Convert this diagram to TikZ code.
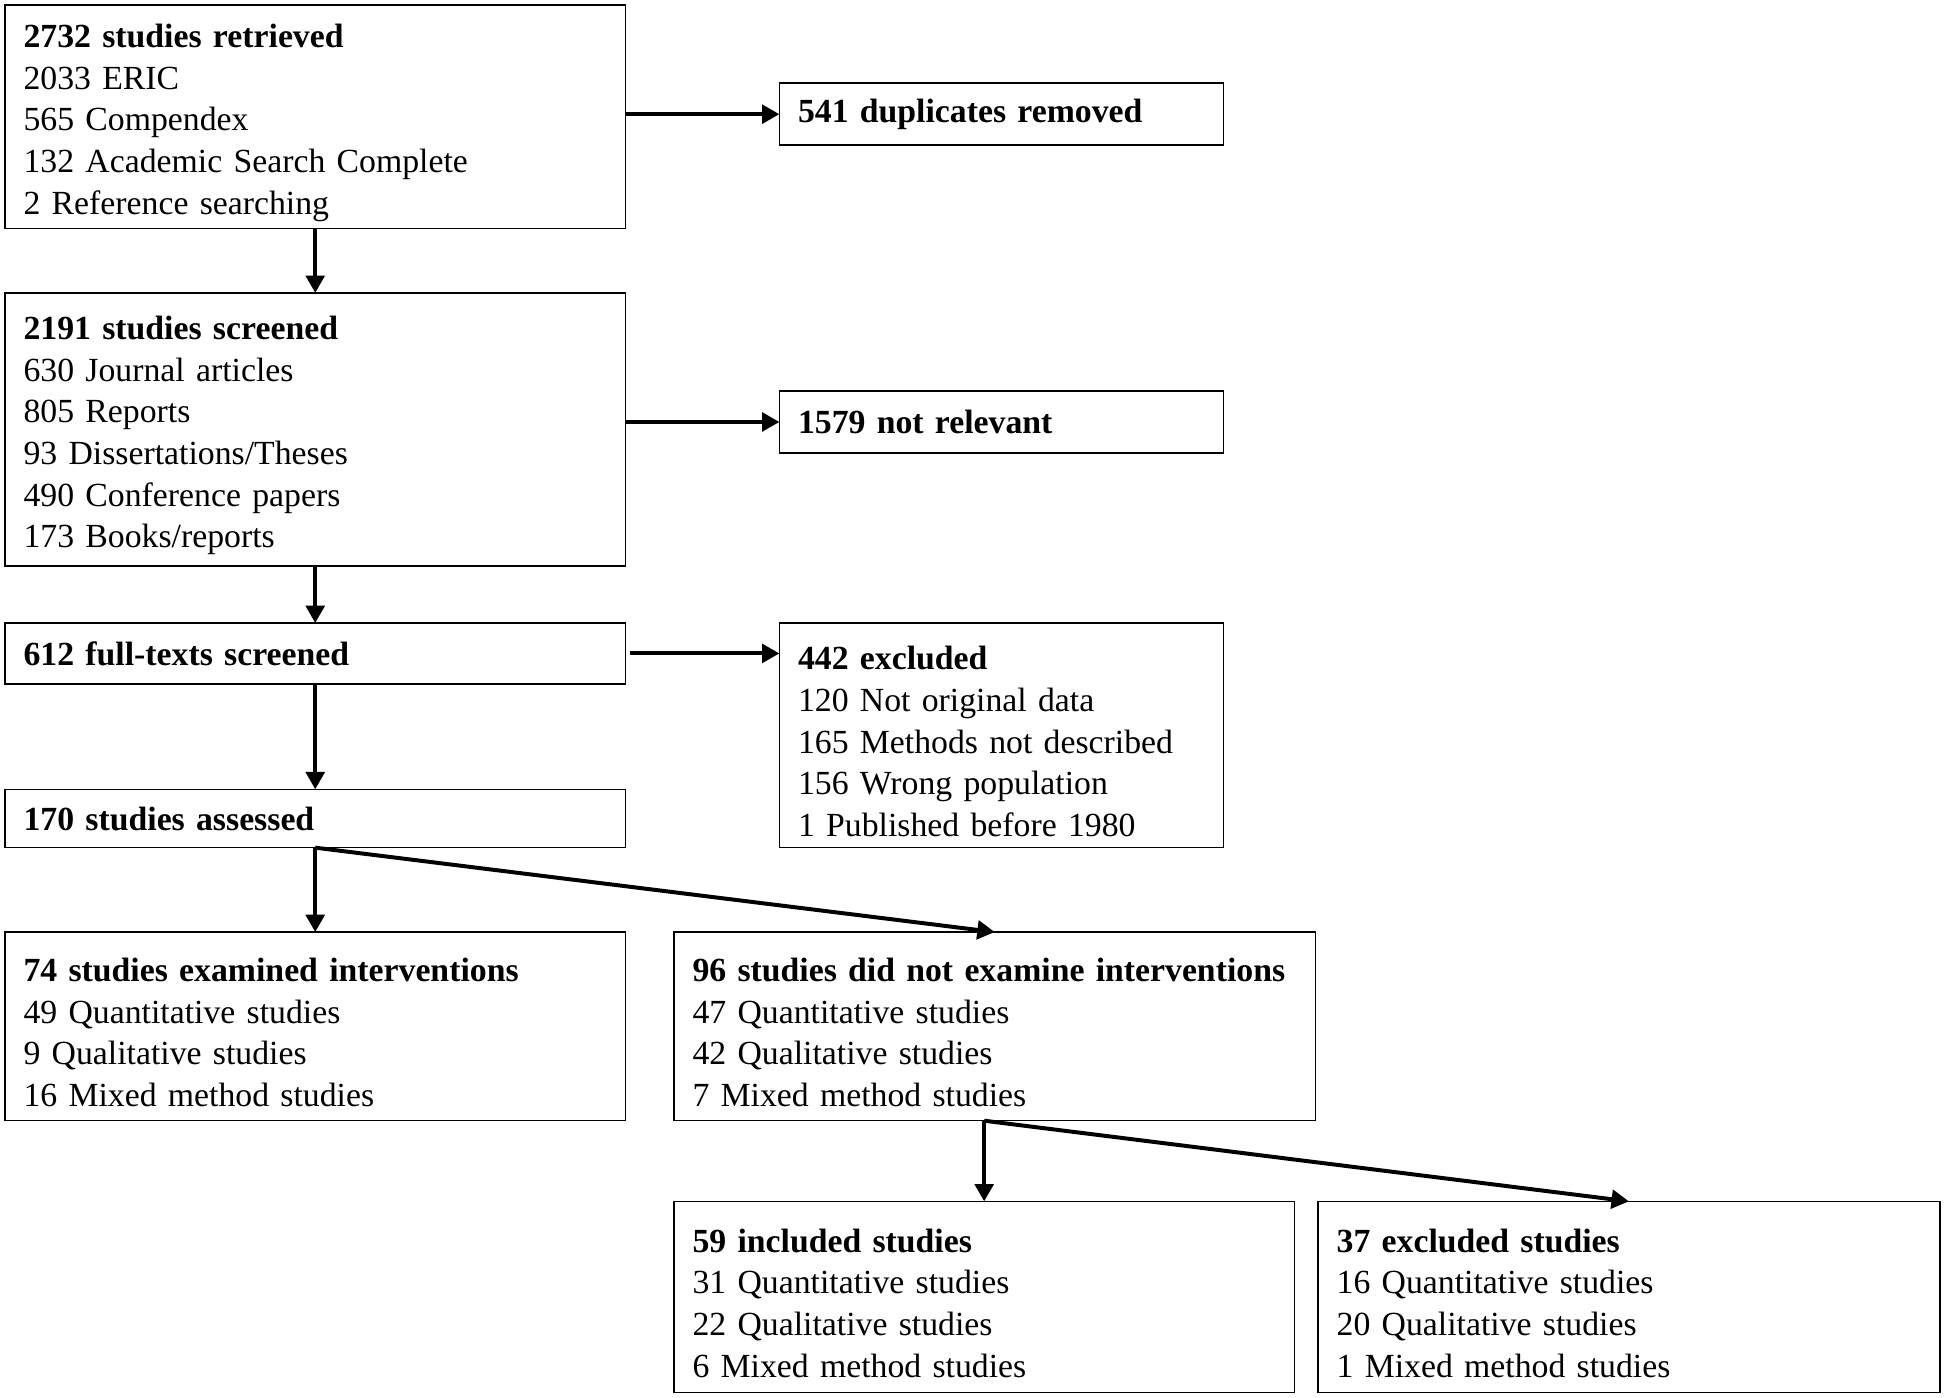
\documentclass[tikz,border=0pt]{standalone}
\usepackage{fontspec}
\setmainfont{Liberation Serif}
\usetikzlibrary{arrows.meta}

\tikzset{every picture/.style={line width=0.6pt}}
\tikzset{
  flowbox/.style={draw, line width=0.6pt, anchor=north west, align=left,
    inner xsep=7.5pt, inner ysep=2pt, outer sep=0pt,
    font=\fontsize{13.6}{16.75}\selectfont},
  listbox/.style={flowbox, execute at end node={\par\vspace*{-5pt}}},
  link/.style={-{Triangle[length=7pt,width=7.5pt]}, line width=1.6pt}
}

\begin{document}
\begin{tikzpicture}[x=0.5pt,y=0.5pt,yscale=-1,xscale=1]
\useasboundingbox (0,0) rectangle (1568,1126);

% left column
\node [listbox, text width=235pt, minimum height=90pt] (ret) at (4,4) {\textbf{2732 studies retrieved}\\2033 ERIC\\565 Compendex\\132 Academic Search Complete\\2 Reference searching};
\node [listbox, text width=235pt, minimum height=110pt] (scr) at (4,236) {\textbf{2191 studies screened}\\630 Journal articles\\805 Reports\\93 Dissertations/Theses\\490 Conference papers\\173 Books/reports};
\node [flowbox, text width=235pt, minimum height=24.5pt] (full) at (4,502) {\textbf{612 full-texts screened}};
\node [flowbox, text width=235pt, minimum height=23.5pt] (ass) at (4,636) {\textbf{170 studies assessed}};
\node [listbox, text width=235pt, minimum height=76pt] (int) at (4,751) {\textbf{74 studies examined interventions}\\49 Quantitative studies\\9 Qualitative studies\\16 Mixed method studies};

% right column
\node [flowbox, text width=164pt, minimum height=25pt] (dup) at (628,67) {\textbf{541 duplicates removed}};
\node [flowbox, text width=164pt, minimum height=25pt] (nrel) at (628,315) {\textbf{1579 not relevant}};
\node [listbox, text width=164pt, minimum height=90.5pt] (excl) at (628,502) {\textbf{442 excluded}\\120 Not original data\\165 Methods not described\\156 Wrong population\\1 Published before 1980};
\node [listbox, text width=243.5pt, minimum height=76pt] (nint) at (543,751) {\textbf{96 studies did not examine interventions}\\47 Quantitative studies\\42 Qualitative studies\\7 Mixed method studies};

% bottom row
\node [listbox, text width=235pt, minimum height=77pt] (inc) at (543,968) {\textbf{59 included studies}\\31 Quantitative studies\\22 Qualitative studies\\6 Mixed method studies};
\node [listbox, text width=235.5pt, minimum height=77pt] (exs) at (1062,968) {\textbf{37 excluded studies}\\16 Quantitative studies\\20 Qualitative studies\\1 Mixed method studies};

% arrows
\draw [link] (ret.east |- dup.west) -- (dup.west);
\draw [link] (ret.south) -- (scr.north);
\draw [link] (scr.east |- nrel.west) -- (nrel.west);
\draw [link] (scr.south) -- (full.north);
\draw [link] ([xshift=2pt]full.east) -- (excl.west |- full.east);
\draw [link] (full.south) -- (ass.north);
\draw [link] (ass.south) -- (int.north);
\draw [link] (ass.south) -- (nint.north);
\draw [link] (inc.north |- nint.south) -- (inc.north);
\draw [link] (inc.north |- nint.south) -- (exs.north);

\end{tikzpicture}
\end{document}
